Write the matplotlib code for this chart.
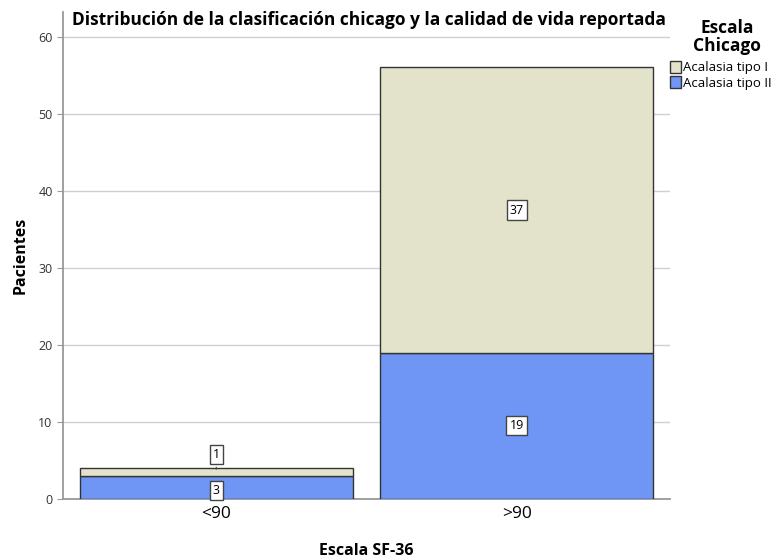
import matplotlib.pyplot as plt
import numpy as np

# datos
categorias = ["<90", ">90"]
tipo_ii = [3, 19]
tipo_i = [1, 37]
series = ["Acalasia tipo I", "Acalasia tipo II"]

color_i = "#E3E3CB"
color_ii = "#6F95F5"

plt.rcParams['font.family'] = ['Open Sans', 'DejaVu Sans']

fig = plt.figure(figsize=(7.83, 5.58), dpi=100)
ax = fig.add_axes([63 / 783, 59 / 558, 607 / 783, 487 / 558])

x = np.arange(len(categorias))
w = 0.91
b2 = ax.bar(x, tipo_ii, width=w, color=color_ii, edgecolor="#333333", linewidth=1, zorder=3)
b1 = ax.bar(x, tipo_i, width=w, bottom=tipo_ii, color=color_i, edgecolor="#333333",
            linewidth=1, zorder=3)

box = dict(boxstyle="square,pad=0.25", fc="white", ec="#444444", lw=1)
for i in range(len(categorias)):
    # etiqueta tipo II
    ax.text(x[i], tipo_ii[i] / 2 if tipo_ii[i] > 5 else tipo_ii[i] / 2 - 0.4, str(tipo_ii[i]),
            ha="center", va="center", fontsize=9, bbox=box, zorder=5)
    yc = tipo_ii[i] + tipo_i[i] / 2
    if tipo_i[i] < 5:
        ax.annotate(str(tipo_i[i]), xy=(x[i], yc), xytext=(x[i], yc + 2.3),
                    ha="center", va="center", fontsize=9, bbox=box, zorder=5,
                    arrowprops=dict(arrowstyle="-", color="#444444", lw=0.8))
    else:
        ax.text(x[i], yc, str(tipo_i[i]), ha="center", va="center", fontsize=9,
                bbox=box, zorder=5)

ax.set_xlim(-0.51, 1.51)
ax.set_ylim(0, 63.2)
ax.set_yticks(range(0, 61, 10))
ax.set_xticks(x)
ax.set_xticklabels(categorias, fontsize=12.5)
ax.tick_params(axis="y", labelsize=9, colors="#333333", length=4, color="#999999")
ax.tick_params(axis="x", length=0, pad=5)
ax.grid(axis="y", color="#d0d0d0", lw=1, zorder=0)

for s in ["top", "right"]:
    ax.spines[s].set_visible(False)
ax.spines["left"].set_color("#999999")
ax.spines["bottom"].set_color("#999999")
ax.spines["left"].set_linewidth(1.3)
ax.spines["bottom"].set_linewidth(1.3)

ax.set_ylabel("Pacientes", fontsize=11.5, fontweight="bold", labelpad=7)
ax.set_xlabel("Escala SF-36", fontsize=11.5, fontweight="bold", labelpad=15)

fig.text(72 / 783, 1 - 20 / 558, "Distribución de la clasificación chicago y la calidad de vida reportada",
         fontsize=12.5, fontweight="bold", va="center", ha="left")

leg = fig.legend([b1, b2], series, loc="upper left", bbox_to_anchor=(670 / 783, 1 - 61 / 558),
                 frameon=False, fontsize=9.5, handlelength=0.8, handleheight=1.0,
                 handletextpad=0.2, labelspacing=0.15, borderaxespad=0, borderpad=0)
fig.text(727 / 783, 1 - 37 / 558, "Escala\nChicago", fontsize=12.5, fontweight="bold",
         ha="center", va="center", linespacing=0.95)

fig.savefig("out.png", dpi=100)
